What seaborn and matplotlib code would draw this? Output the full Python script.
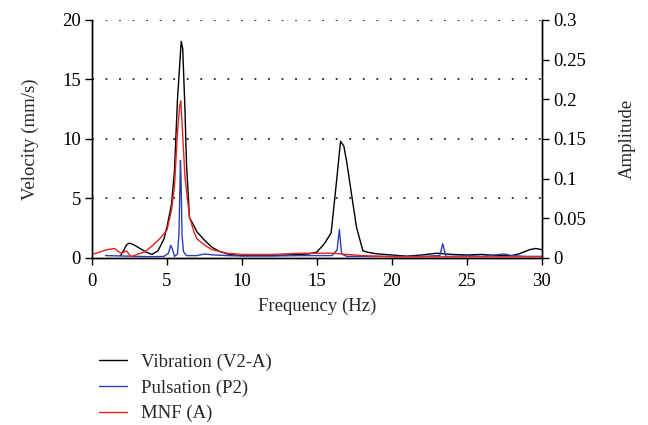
import pandas as pd
import matplotlib
matplotlib.use('Agg')
import matplotlib.pyplot as plt
import seaborn as sns

# Vibration (V2-A), velocity in mm/s (left axis)
vib_freq = [1.9, 2.1, 2.3, 2.5, 2.8, 3.2, 3.6, 4.0, 4.4, 4.8, 5.0, 5.3, 5.5, 5.7, 5.95,
            6.05, 6.2, 6.3, 6.5, 6.8, 7.0, 7.5, 8.0, 8.5, 9.0, 9.5, 10, 11, 12, 13, 14,
            14.5, 15.0, 15.5, 15.95, 16.3, 16.58, 16.8, 17.0, 17.2, 17.64, 18.07, 18.5,
            19, 20, 21, 22, 23, 24, 25, 26, 27, 28, 28.5, 29.2, 29.6, 30]
vib = [0.2, 0.6, 1.1, 1.25, 1.1, 0.8, 0.5, 0.3, 0.6, 1.6, 2.6, 4.5, 7.3, 13.3, 18.2,
       17.6, 12.5, 8.0, 3.4, 2.7, 2.2, 1.5, 0.9, 0.55, 0.35, 0.25, 0.2, 0.2, 0.2, 0.25, 0.3,
       0.35, 0.5, 1.2, 2.1, 6.3, 9.8, 9.4, 8.0, 6.3, 2.6, 0.6, 0.45,
       0.35, 0.25, 0.15, 0.25, 0.4, 0.3, 0.25, 0.3, 0.2, 0.2, 0.35, 0.7, 0.8, 0.7]

# Pulsation (P2), amplitude (right axis)
puls_freq = [0.9, 2, 3, 4, 4.8, 5.1, 5.25, 5.35, 5.5, 5.7, 5.8, 5.9, 5.95, 6.0, 6.1,
             6.3, 7, 7.5, 8, 9, 10, 12, 14, 16, 16.35, 16.5, 16.65, 17, 18, 20, 22,
             23.2, 23.4, 23.6, 24, 25, 26, 27, 27.5, 28, 29, 30]
puls = [0.003, 0.0025, 0.002, 0.0015, 0.002, 0.006, 0.016, 0.012, 0.002, 0.005, 0.03, 0.123,
        0.09, 0.03, 0.008, 0.003, 0.003, 0.005, 0.004, 0.003, 0.0025, 0.0025, 0.003, 0.003,
        0.01, 0.036, 0.005, 0.002, 0.002, 0.002, 0.002, 0.003, 0.018, 0.002, 0.002, 0.003,
        0.002, 0.004, 0.005, 0.003, 0.002, 0.002]

# MNF (A), amplitude (right axis)
mnf_freq = [0, 0.5, 1, 1.5, 1.8, 2.0, 2.3, 2.6, 3, 3.5, 4, 4.5, 5, 5.3, 5.5, 5.7, 5.85,
            5.92, 6.0, 6.2, 6.5, 6.8, 7, 7.5, 8, 9, 10, 12, 14, 16, 17, 18, 20, 22, 24,
            26, 28, 30]
mnf = [0.0045, 0.0075, 0.0105, 0.012, 0.0075, 0.006, 0.009, 0.0015, 0.0045, 0.0075, 0.015,
       0.024, 0.035, 0.06, 0.09, 0.158, 0.192, 0.198, 0.172, 0.102, 0.052, 0.033, 0.024,
       0.0165, 0.0105, 0.006, 0.0045, 0.0045, 0.006, 0.006, 0.0045, 0.003, 0.0015, 0.0015,
       0.0015, 0.0015, 0.0015, 0.0015]

sns.set_style('ticks')
plt.rcParams['font.family'] = ['Liberation Serif', 'DejaVu Serif']
fs = 13.5

fig = plt.figure(figsize=(6.48, 4.25), dpi=100)
ax = fig.add_axes([0.142, 0.393, 0.694, 0.560])
ax2 = ax.twinx()

df_vib = pd.DataFrame({'f': vib_freq, 'v': vib})
df_puls = pd.DataFrame({'f': puls_freq, 'a': puls})
df_mnf = pd.DataFrame({'f': mnf_freq, 'a': mnf})

sns.lineplot(data=df_vib, x='f', y='v', ax=ax, color='black', lw=1.0,
             label='Vibration (V2-A)', legend=False)
sns.lineplot(data=df_puls, x='f', y='a', ax=ax2, color='#2a3fb0', lw=1.0,
             label='Pulsation (P2)', legend=False)
sns.lineplot(data=df_mnf, x='f', y='a', ax=ax2, color='#e8231e', lw=1.0,
             label='MNF (A)', legend=False)

ax.set_xlim(0, 30)
ax.set_ylim(0, 20)
ax2.set_ylim(0, 0.3)
ax.set_xticks([0, 5, 10, 15, 20, 25, 30])
ax.set_yticks([0, 5, 10, 15, 20])
ax2.set_yticks([0, 0.05, 0.1, 0.15, 0.2, 0.25, 0.3])
ax2.set_yticklabels(['0', '0.05', '0.1', '0.15', '0.2', '0.25', '0.3'])

for y in [5, 10, 15, 20]:
    ax.axhline(y, color='#222222', lw=1.3, ls=(0, (1, 6.5)), zorder=0)

for a in (ax, ax2):
    a.spines['top'].set_visible(False)
    a.tick_params(direction='out', length=5, width=1, colors='black', labelsize=fs, pad=3)
    for s in a.spines.values():
        s.set_color('black')
        s.set_linewidth(1)
ax.tick_params(axis='x', pad=6)

ax.set_xlabel('Frequency (Hz)', fontsize=fs, labelpad=5)
ax.set_ylabel('Velocity (mm/s)', fontsize=fs, labelpad=17)
ax2.set_ylabel('Amplitude', fontsize=fs, labelpad=24)

h1, l1 = ax.get_legend_handles_labels()
h2, l2 = ax2.get_legend_handles_labels()
fig.legend(h1 + h2, l1 + l2, loc='upper left', bbox_to_anchor=(0.141, 0.186),
           frameon=False, fontsize=fs, handlelength=1.5, handletextpad=0.75,
           labelspacing=0.45, borderaxespad=0)

fig.savefig('out.png', dpi=100)
